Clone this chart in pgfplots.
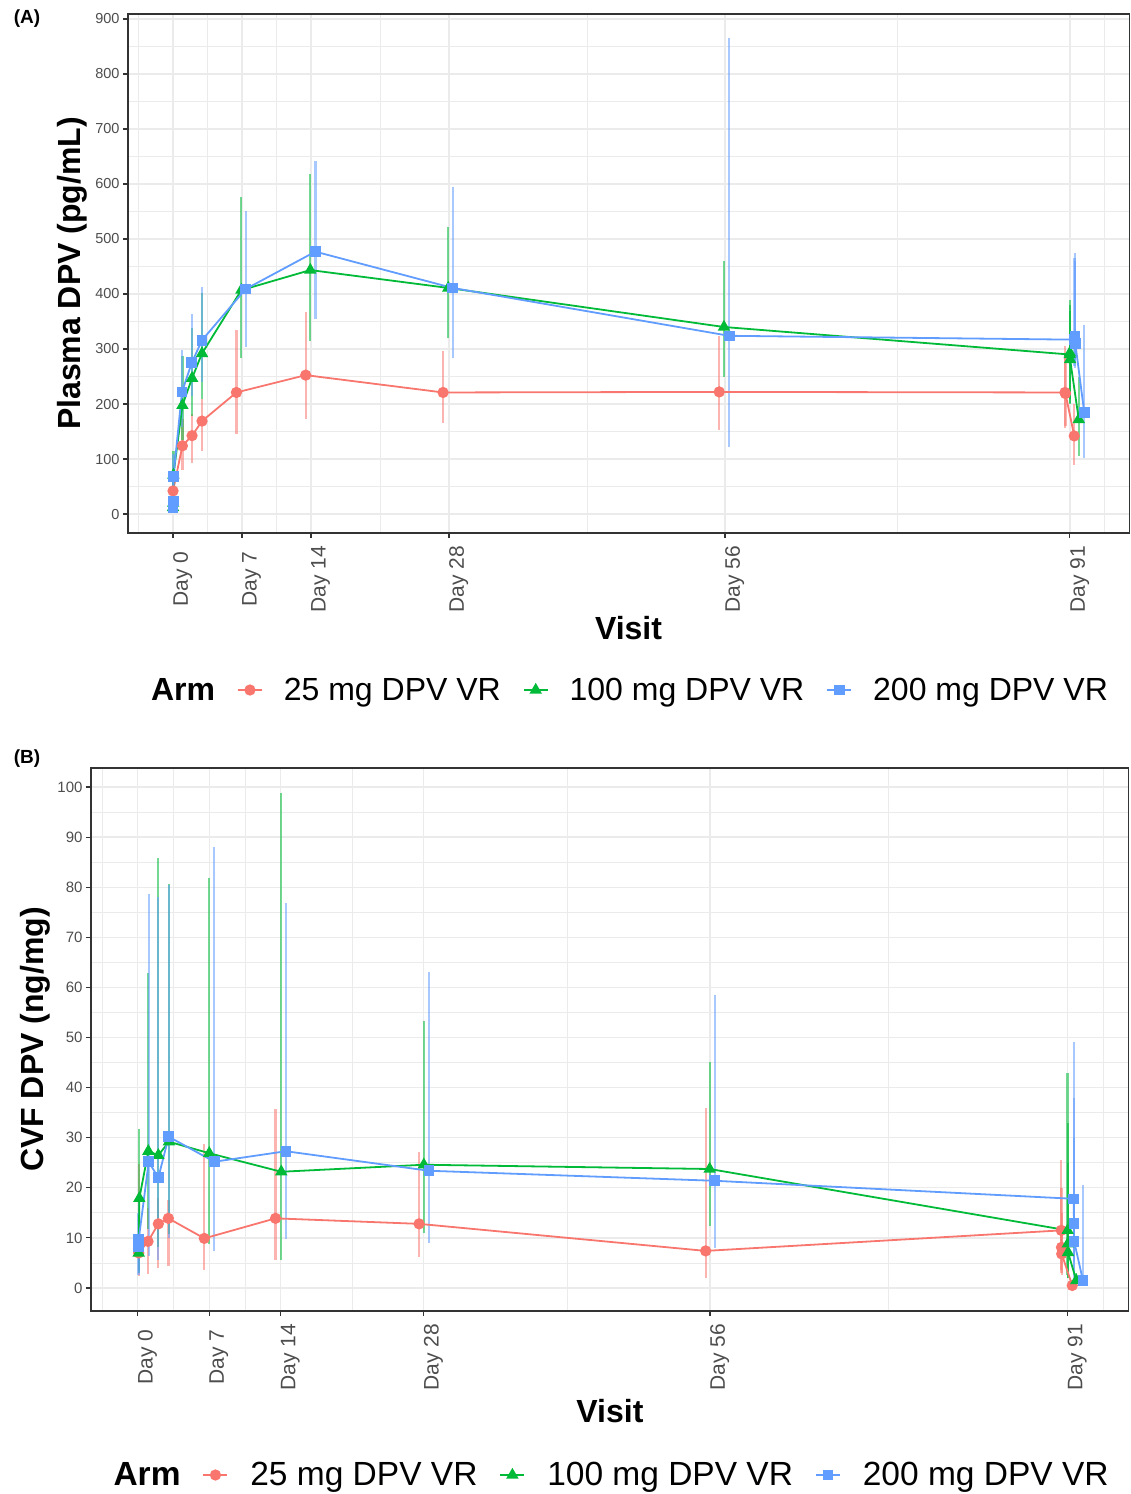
\documentclass[border=0pt]{standalone}
\usepackage{pgfplots}
\pgfplotsset{compat=1.18}
\usepackage{pgfplotstable}
\usepackage{fontspec}
\setmainfont{Liberation Sans}

\definecolor{cRed}{HTML}{F8766D}
\definecolor{cGreen}{HTML}{00BA38}
\definecolor{cBlue}{HTML}{619CFF}
\definecolor{c20}{HTML}{333333}
\definecolor{c30}{HTML}{4D4D4D}
\definecolor{cGrid}{HTML}{EBEBEB}

% plasma DPV (pg/mL): x = day (dodged), y = mean, lo/hi = bar ends
\pgfplotstableread{
x y lo hi
0 42 28 60
0.95 124 80 172
1.93 142.5 93 181
2.94 169 114 209
6.43 221 146 335
13.46 252.5 172 367
27.4 221 165 297
55.42 222 153 324
90.5 221 156 306
90.55 219 160 290
91.44 142 89 200
}\redA
\pgfplotstableread{
x y lo hi
0 12 6 20
0.02 20 10 36
0.04 71 30 115
0.95 197.5 134 287
1.93 247 177.5 339
2.94 292 209 402.5
6.93 407 284 576
13.93 443.5 315 618
27.93 411 320 522.5
55.9 340 250 460
90.98 290 200 370
91.0 293 202 389
91.02 281 210 380
91.9 172 105 250
}\greenA
\pgfplotstableread{
x y lo hi
0 12 6 22
0.02 24 10 45
0.04 68 35 110
0.91 222 159 297.5
1.9 275 215 363
2.94 316 240 413
7.37 409 304 550.6
14.44 477 354 642.5
28.37 411 284 594
56.43 324 122 865
91.45 317 270 465
91.5 323 275 475
91.55 310 265 460
92.45 185 101 344
}\blueA

% CVF DPV (ng/mg)
\pgfplotstableread{
x y lo hi
0.1 7.0 2.3 24.7
1.01 9.3 2.7 16
2.02 12.8 4 18
3.0 13.9 4.3 17.5
6.52 9.9 3.6 28.8
13.49 13.9 5.5 35.7
27.54 12.8 6.1 27.1
55.58 7.4 2 35.9
90.38 11.5 3.6 25.5
90.4 8.1 3 20
90.42 6.8 2.5 15
91.45 0.5 0.1 1.5
}\redB
\pgfplotstableread{
x y lo hi
0.1 7.0 3 12
0.16 17.9 3.3 31.8
1.04 27.3 11.8 62.9
2.02 26.5 8.2 85.9
3.06 29.2 10.7 80.7
7.0 26.9 8.8 81.8
14.05 23.2 5.5 98.8
28.0 24.6 11 53.2
55.97 23.75 12.4 45.1
91.0 11.5 2.6 42.9
91.02 8.8 2 33
91.04 7.1 2 25
91.85 1.5 0.3 3
}\greenB
\pgfplotstableread{
x y lo hi
0.08 8.3 2.5 15
0.1 9.7 3 17
1.08 25.2 6.3 78.6
2.02 22 5.5 78
3.03 30.2 10 80.5
7.5 25.2 7.3 88
14.5 27.3 9.8 76.8
28.5 23.4 9 63
56.46 21.4 8 58.5
91.6 17.8 5.2 49.1
91.62 12.9 3 38
91.64 9.3 2 30
92.5 1.5 0.5 20.5
}\blueB

\pgfplotsset{
  dpv/.style={
    scale only axis, anchor=south west,
    xmin=-4.57, xmax=97.0,
    xtick={0,7,14,28,56,91},
    xticklabels={Day 0,Day 7,Day 14,Day 28,Day 56,Day 91},
    minor xtick={-3.5,3.5,10.5,21,42,73.5,94.5},
    grid=both,
    major grid style={draw=cGrid, line width=1.3pt},
    minor grid style={draw=cGrid, line width=0.7pt},
    axis line style={draw=c20, line width=1.1pt},
    tick style={draw=c20, line width=1.1pt},
    tick align=outside, major tick length=5pt, minor tick length=0pt,
    xtick pos=left, ytick pos=left,
    /pgf/number format/assume math mode=true,
    xticklabel style={font=\fontsize{21}{25}\selectfont, text=c30,
      yshift=-41pt, rotate=90, anchor=north, inner sep=0pt},
    yticklabel style={text=c30},
    xlabel={Visit},
    every axis x label/.style={at={(axis description cs:0.5,-0.183)},
      anchor=center, font=\bfseries\fontsize{32}{38}\selectfont},
    every axis y label/.style={rotate=90, anchor=center,
      font=\bfseries\fontsize{32}{38}\selectfont},
    legend columns=-1,
    legend image code/.code={\draw[mark repeat=2,mark phase=2,##1]
      plot coordinates {(0pt,0pt) (12pt,0pt) (24pt,0pt)};},
    legend style={anchor=center, draw=none, fill=none,
      font=\fontsize{32}{38}\selectfont,
      nodes={inner xsep=0pt},
      /tikz/every odd column/.append style={column sep=21pt},
      /tikz/every even column/.append style={column sep=22pt},
      /tikz/column 1/.style={column sep=0pt}},
  },
  ebar/.style={forget plot, draw=none, mark=none,
    error bars/.cd, y dir=both, y explicit, error mark=none,
    error bar style={draw=#1, line width=2.3pt, opacity=0.55}},
  ser/.style={draw=#1, line width=1.8pt, mark options={solid, fill=#1, draw=#1}},
}

\newcommand{\ebars}[2]{\addplot[ebar=#1] table[x=x, y=y,
  y error plus expr=\thisrow{hi}-\thisrow{y},
  y error minus expr=\thisrow{y}-\thisrow{lo}] {#2};}

\begin{document}
\begin{tikzpicture}
\path[use as bounding box] (0pt,0pt) rectangle (1130pt,-1494pt);

\node[font=\bfseries\fontsize{19}{22}\selectfont] at (27pt,-19pt) {(A)};
\node[font=\bfseries\fontsize{19}{22}\selectfont] at (27pt,-759pt) {(B)};

\begin{axis}[dpv,
  at={(128pt,-533pt)}, width=1001pt, height=519pt,
  ymin=-34.5, ymax=909,
  ytick={0,100,...,900},
  minor ytick={50,150,...,850},
  yticklabel style={font=\fontsize{14.5}{17}\selectfont},
  ylabel={Plasma DPV (pg/mL)},
  ylabel style={at={(axis description cs:-0.0559,0.5)}},
  legend style={at={(axis description cs:0.4905,-0.3025)}},
]
\ebars{cRed}{\redA}
\ebars{cGreen}{\greenA}
\ebars{cBlue}{\blueA}
\addlegendimage{empty legend}\addlegendentry{\textbf{Arm}}
\addplot[ser=cRed, mark=*, mark size=4.7pt] table[x=x,y=y] {\redA};
\addlegendentry{25 mg DPV VR}
\addplot[ser=cGreen, mark=triangle*, mark size=5.4pt] table[x=x,y=y] {\greenA};
\addlegendentry{100 mg DPV VR}
\addplot[ser=cBlue, mark=square*, mark size=4.4pt] table[x=x,y=y] {\blueA};
\addlegendentry{200 mg DPV VR}
\end{axis}

\begin{axis}[dpv,
  at={(91pt,-1311pt)}, width=1038pt, height=543pt,
  ymin=-4.6, ymax=103.8,
  ytick={0,10,...,100},
  minor ytick={5,15,...,95},
  yticklabel style={font=\fontsize{15}{18}\selectfont},
  ylabel={CVF DPV (ng/mg)},
  ylabel style={at={(axis description cs:-0.054,0.5)}},
  every axis x label/.append style={at={(axis description cs:0.5,-0.184)}},
  legend style={at={(axis description cs:0.4905,-0.302)},
    font=\fontsize{33.5}{40}\selectfont,
    /tikz/every odd column/.append style={column sep=22pt},
    /tikz/every even column/.append style={column sep=22pt},
    /tikz/column 1/.style={column sep=0pt}},
]
\ebars{cRed}{\redB}
\ebars{cGreen}{\greenB}
\ebars{cBlue}{\blueB}
\addlegendimage{empty legend}\addlegendentry{\textbf{Arm}}
\addplot[ser=cRed, mark=*, mark size=4.7pt] table[x=x,y=y] {\redB};
\addlegendentry{25 mg DPV VR}
\addplot[ser=cGreen, mark=triangle*, mark size=5.4pt] table[x=x,y=y] {\greenB};
\addlegendentry{100 mg DPV VR}
\addplot[ser=cBlue, mark=square*, mark size=4.4pt] table[x=x,y=y] {\blueB};
\addlegendentry{200 mg DPV VR}
\end{axis}
\end{tikzpicture}
\end{document}
